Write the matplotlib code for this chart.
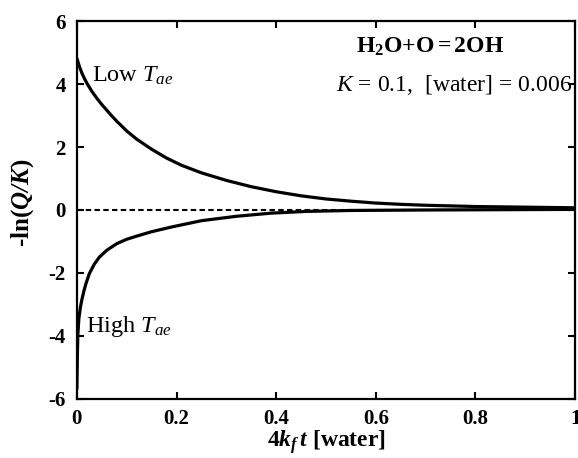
import numpy as np
import matplotlib
matplotlib.use("Agg")
import matplotlib.pyplot as plt

# --- data ---
low_x = [0.0, 0.005, 0.01, 0.015, 0.02, 0.03, 0.04, 0.05, 0.06, 0.07, 0.08,
         0.10, 0.12, 0.15, 0.18, 0.21, 0.25, 0.30, 0.35, 0.40, 0.45, 0.50,
         0.55, 0.60, 0.65, 0.70, 0.80, 0.90, 1.00]
low_y = [4.82, 4.56, 4.35, 4.18, 4.03, 3.77, 3.55, 3.35, 3.17, 2.99, 2.82,
         2.51, 2.25, 1.93, 1.65, 1.42, 1.18, 0.94, 0.74, 0.58, 0.45, 0.35,
         0.28, 0.22, 0.18, 0.15, 0.11, 0.09, 0.07]

high_x = [0.0, 0.001, 0.002, 0.004, 0.007, 0.01, 0.014, 0.018, 0.025, 0.035,
          0.045, 0.06, 0.08, 0.10, 0.12, 0.15, 0.19, 0.25, 0.32, 0.39, 0.46,
          0.55, 0.70, 0.85, 1.00]
high_y = [-5.7, -4.6, -3.95, -3.45, -3.1, -2.85, -2.58, -2.35, -2.02, -1.72,
          -1.5, -1.28, -1.07, -0.93, -0.83, -0.69, -0.54, -0.34, -0.2, -0.1,
          -0.045, -0.015, 0.0, 0.01, 0.02]

x_ticks = [0, 0.2, 0.4, 0.6, 0.8, 1]
x_tick_labels = ["0", "0.2", "0.4", "0.6", "0.8", "1"]
y_ticks = [-6, -4, -2, 0, 2, 4, 6]
y_tick_labels = ["-6", "-4", "-2", "0", "2", "4", "6"]

# --- style ---
plt.rcParams["font.family"] = ["Liberation Serif", "DejaVu Serif"]
plt.rcParams["mathtext.fontset"] = "custom"
plt.rcParams["mathtext.rm"] = "Liberation Serif"
plt.rcParams["mathtext.it"] = "Liberation Serif:italic"
plt.rcParams["mathtext.bf"] = "Liberation Serif:bold"
plt.rcParams["mathtext.bfit"] = "Liberation Serif:bold:italic"
plt.rcParams["axes.unicode_minus"] = False

fig = plt.figure(figsize=(5.78, 4.58), dpi=100)
ax = fig.add_axes([0.133, 0.129, 0.862, 0.825])

ax.plot(low_x, low_y, color="black", lw=2.3, solid_capstyle="butt",
        solid_joinstyle="round")
ax.plot(high_x, high_y, color="black", lw=2.3, solid_capstyle="butt",
        solid_joinstyle="round")
ax.axhline(0, color="black", lw=1.5, ls=(0, (2.6, 1.6)), zorder=1)

ax.set_xlim(0, 1)
ax.set_ylim(-6, 6)
ax.set_xticks(x_ticks)
ax.set_xticklabels(x_tick_labels)
ax.set_yticks(y_ticks)
ax.set_yticklabels(y_tick_labels)
ax.tick_params(direction="in", length=5, width=1.5, top=True, right=True,
               labelsize=15, pad=8)
ax.tick_params(axis="x", pad=7)
for lab in ax.get_xticklabels() + ax.get_yticklabels():
    lab.set_fontweight("bold")
for s in ax.spines.values():
    s.set_linewidth(1.6)

ax.set_xlabel(r"4$\mathbfit{k_f\,t}$ [water]", fontsize=17,
              fontweight="bold")
ax.xaxis.set_label_coords(0.5, -0.078)
ax.set_ylabel(r"-ln($\mathbfit{Q/K}$)", fontsize=18, fontweight="bold")
ax.yaxis.set_label_coords(-0.082, 0.52)

ax.text(0.03, 4.06, r"Low $T_{ae}$", fontsize=17.5, va="baseline")
ax.text(0.018, -3.87, r"High $T_{ae}$", fontsize=17.5, va="baseline")
ax.text(0.709, 5.0, r"$\mathbf{H_2O{+}O{=}2OH}$", fontsize=17,
        ha="center", va="baseline")
ax.text(0.995, 3.78, r"$K$ = 0.1,  [water] = 0.006", fontsize=17,
        ha="right", va="baseline")

fig.savefig("out.png", dpi=100)
